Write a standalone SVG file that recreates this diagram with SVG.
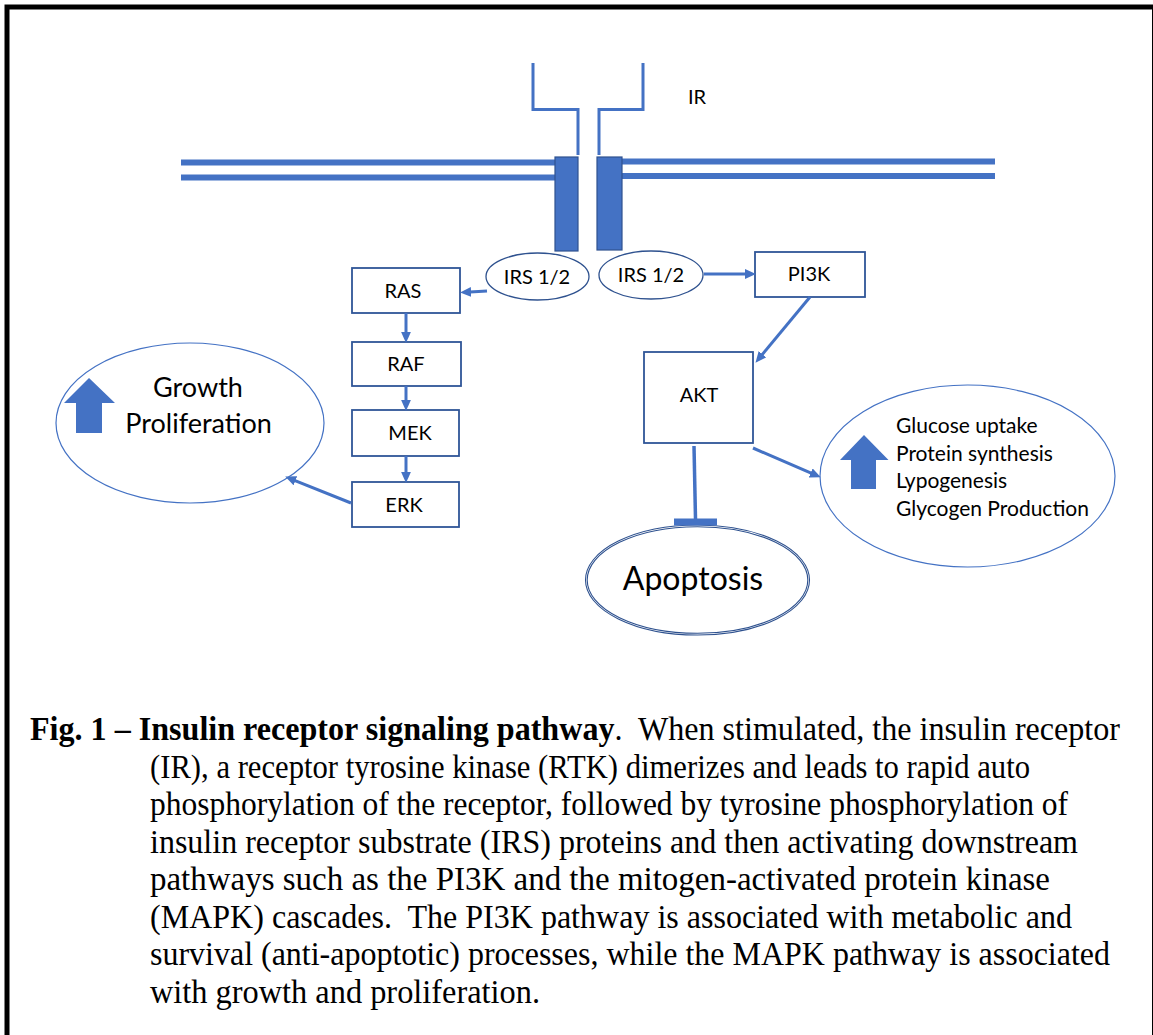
<svg xmlns="http://www.w3.org/2000/svg" width="1153" height="1035" viewBox="0 0 1153 1035">
  <style>
    .frame { fill: none; stroke: #000; stroke-width: 5; }
    .membrane { stroke: #4472C4; stroke-width: 6; fill: none; }
    .receptor { fill: #4472C4; stroke: #2F528F; stroke-width: 1.2; }
    .chain { fill: none; stroke: #4472C4; stroke-width: 3; }
    .box { fill: #fff; stroke: #2F5597; stroke-width: 1.8; }
    .oval { fill: #fff; stroke: #2F528F; stroke-width: 1.3; }
    .oval-light { fill: #fff; stroke: #4472C4; stroke-width: 1.2; }
    .oval-double { fill: none; stroke: #2F528F; stroke-width: 1.1; }
    .label { font-family: Lato, "Open Sans", sans-serif; fill: #000; font-size: 20px; text-anchor: middle; }
    .big { font-size: 27px; }
    .effects { font-family: Lato, "Open Sans", sans-serif; font-size: 21px; fill: #000; }
    .updown { fill: #4472C4; }
    .link { stroke: #4472C4; stroke-width: 3; fill: none; }
    .caption { font-family: "Liberation Serif", "Times New Roman", serif; font-size: 33px; fill: #000; white-space: pre; }
    .caption .b { font-weight: bold; }
  </style>
  <defs>
    <marker id="head" viewBox="0 0 10 9" markerUnits="userSpaceOnUse" markerWidth="11" markerHeight="10" refX="1" refY="4.5" orient="auto">
      <path d="M0,0 L10,4.5 L0,9 z" fill="#4472C4"/>
    </marker>
  </defs>

  <rect width="1153" height="1035" fill="#fff"/>
  <rect class="frame" x="7" y="7" width="1147.5" height="1045"/>

  <!-- cell membrane (double line) -->
  <g id="membrane">
    <line class="membrane" x1="181" y1="162.5" x2="556" y2="162.5"/>
    <line class="membrane" x1="181" y1="177.5" x2="556" y2="177.5"/>
    <line class="membrane" x1="621" y1="161.5" x2="995" y2="161.5"/>
    <line class="membrane" x1="621" y1="176" x2="995" y2="176"/>
  </g>

  <!-- insulin receptor dimer -->
  <g id="receptor">
    <path class="chain" d="M533,63 V109.5 H578 V155"/>
    <path class="chain" d="M599,155 V109.5 H643 V63"/>
    <rect class="receptor" x="555" y="157" width="23" height="94"/>
    <rect class="receptor" x="597" y="157" width="25" height="93"/>
    <text class="label" x="697" y="104">IR</text>
  </g>

  <g id="irs-left">
    <ellipse class="oval" cx="537.5" cy="276.5" rx="51.5" ry="23.5"/>
    <text class="label" x="537" y="284">IRS 1/2</text>
  </g>
  <g id="irs-right">
    <ellipse class="oval" cx="651" cy="275" rx="52" ry="24"/>
    <text class="label" x="651" y="282">IRS 1/2</text>
  </g>

  <g id="ras">
    <rect class="box" x="352" y="268" width="108" height="45"/>
    <text class="label" x="403" y="298">RAS</text>
  </g>
  <g id="raf">
    <rect class="box" x="352" y="342" width="109" height="44"/>
    <text class="label" x="406" y="371">RAF</text>
  </g>
  <g id="mek">
    <rect class="box" x="352" y="410" width="107" height="46"/>
    <text class="label" x="410" y="440">MEK</text>
  </g>
  <g id="erk">
    <rect class="box" x="352" y="482" width="107" height="45"/>
    <text class="label" x="404" y="512">ERK</text>
  </g>

  <g id="pi3k">
    <rect class="box" x="755" y="252" width="110" height="45"/>
    <text class="label" x="809" y="281">PI3K</text>
  </g>
  <g id="akt">
    <rect class="box" x="644" y="352" width="109" height="91"/>
    <text class="label" x="699" y="402">AKT</text>
  </g>

  <g id="growth">
    <ellipse class="oval-light" cx="190" cy="423" rx="134" ry="80"/>
    <polygon class="updown" points="89,378 115,403 102,403 102,433 76,433 76,403 64,403"/>
    <text class="label big" x="198" y="397">Growth</text>
    <text class="label big" x="198.5" y="433">Proliferation</text>
  </g>

  <g id="metabolism">
    <ellipse class="oval-light" cx="967.5" cy="476" rx="147.5" ry="91"/>
    <polygon class="updown" points="864,435 888.5,460 876,460 876,489 851,489 851,460 840,460"/>
    <text class="effects" x="896" y="433">Glucose uptake</text>
    <text class="effects" x="896" y="461">Protein synthesis</text>
    <text class="effects" x="896" y="488">Lypogenesis</text>
    <text class="effects" x="896" y="515.5">Glycogen Production</text>
  </g>

  <g id="apoptosis">
    <ellipse fill="#fff" cx="697.5" cy="580" rx="112" ry="55"/>
    <ellipse class="oval-double" cx="697.5" cy="580" rx="112" ry="55"/>
    <ellipse class="oval-double" cx="697.5" cy="580" rx="110.3" ry="53.3"/>
    <text class="label" x="693" y="590" style="font-size:32px">Apoptosis</text>
  </g>

  <!-- connectors -->
  <g id="connectors">
    <line class="link" x1="487" y1="291" x2="470" y2="292" marker-end="url(#head)"/>
    <line class="link" x1="704" y1="274" x2="746" y2="274" marker-end="url(#head)"/>
    <line class="link" x1="810" y1="297" x2="761.8" y2="355.1" marker-end="url(#head)"/>
    <line class="link" x1="406" y1="313" x2="406" y2="333" marker-end="url(#head)"/>
    <line class="link" x1="406" y1="386" x2="406" y2="401" marker-end="url(#head)"/>
    <line class="link" x1="406" y1="456" x2="406" y2="473" marker-end="url(#head)"/>
    <line class="link" x1="351" y1="503" x2="294.4" y2="480.3" marker-end="url(#head)"/>
    <line class="link" x1="753" y1="448" x2="811.7" y2="473.4" marker-end="url(#head)"/>
    <!-- AKT inhibits apoptosis -->
    <line class="link" x1="694" y1="446" x2="695.5" y2="519" style="stroke-width:3.5"/>
    <rect x="674" y="518.5" width="43" height="7" fill="#4472C4"/>
  </g>

  <!-- figure caption -->
  <g id="caption">
    <text class="caption" x="30" y="740" textLength="1090" lengthAdjust="spacingAndGlyphs"><tspan class="b">Fig. 1 – Insulin receptor signaling pathway</tspan>.&#160; When stimulated, the insulin receptor</text>
    <text class="caption" x="150" y="777.5" textLength="880" lengthAdjust="spacingAndGlyphs">(IR), a receptor tyrosine kinase (RTK) dimerizes and leads to rapid auto</text>
    <text class="caption" x="150" y="815" textLength="918" lengthAdjust="spacingAndGlyphs">phosphorylation of the receptor, followed by tyrosine phosphorylation of</text>
    <text class="caption" x="150" y="852.5" textLength="928" lengthAdjust="spacingAndGlyphs">insulin receptor substrate (IRS) proteins and then activating downstream</text>
    <text class="caption" x="150" y="890" textLength="900" lengthAdjust="spacingAndGlyphs">pathways such as the PI3K and the mitogen-activated protein kinase</text>
    <text class="caption" x="150" y="927.5" textLength="922" lengthAdjust="spacingAndGlyphs">(MAPK) cascades.&#160; The PI3K pathway is associated with metabolic and</text>
    <text class="caption" x="150" y="965" textLength="960" lengthAdjust="spacingAndGlyphs">survival (anti-apoptotic) processes, while the MAPK pathway is associated</text>
    <text class="caption" x="150" y="1002.5" textLength="390" lengthAdjust="spacingAndGlyphs">with growth and proliferation.</text>
  </g>
</svg>
